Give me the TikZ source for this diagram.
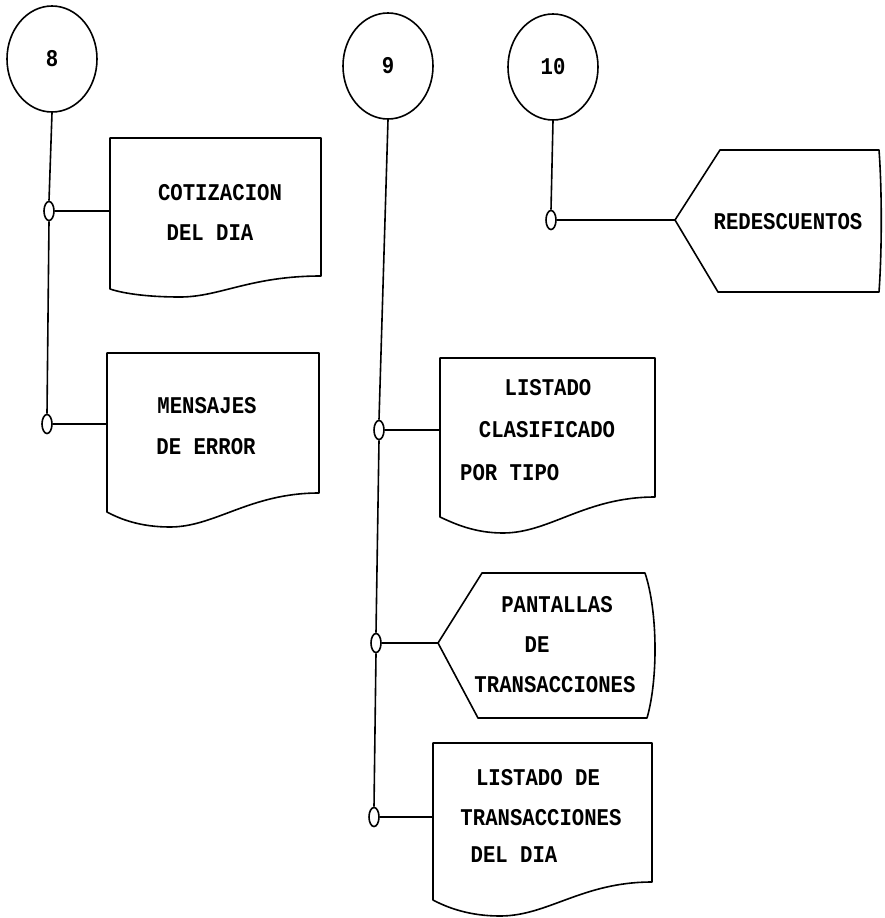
\documentclass[tikz,border=0pt]{standalone}
\usepackage{fontspec}
\setmonofont[FakeStretch=0.86]{Liberation Mono}
\usetikzlibrary{shapes.geometric}
\newcommand\printfont{\ttfamily\bfseries\fontsize{24}{24}\selectfont}
\tikzset{
  ink/.style={line width=1.6pt, draw=black},
  bubble/.style={ellipse, ink, minimum width=90pt, minimum height=106pt, inner sep=0pt, font=\printfont},
  joint/.style={ellipse, ink, fill=white, minimum width=10pt, minimum height=19pt, inner sep=0pt},
  lbl/.style={font=\printfont, inner sep=0pt},
  wire/.style={ink},
  outline/.style={ink, line join=round}
}
\begin{document}
\begin{tikzpicture}[x=1pt, y=-1pt]
\useasboundingbox (0,0) rectangle (884,918);

% ---- connector bubbles
\node[bubble] (c8)  at (52,59)  {8};
\node[bubble] (c9)  at (388,66) {9};
\node[bubble] (c10) at (553,67) {10};

% ---- junction points on the buses
\node[joint] (j1) at (49,211)  {};
\node[joint] (j2) at (47,424)  {};
\node[joint] (j3) at (379,430) {};
\node[joint] (j4) at (376,643) {};
\node[joint] (j5) at (374,817) {};
\node[joint] (j6) at (551,220) {};

% ---- attachment points on the shapes
\coordinate (b1) at (110,211);
\coordinate (b2) at (107,424);
\coordinate (b3) at (440,430);
\coordinate (d4) at (438,643);
\coordinate (b5) at (433,817);
\coordinate (d6) at (675,220);

% ---- printed-report shapes (wavy bottom)
\draw[outline] (110,289) -- (110,138) -- (321,138) -- (321,276)
  .. controls (250,276) and (220,297) .. (180,297)
  .. controls (150,297) and (125,294) .. cycle;
\draw[outline] (107,512) -- (107,353) -- (319,353) -- (319,493)
  .. controls (250,493) and (215,527) .. (170,527)
  .. controls (140,527) and (120,519) .. cycle;
\draw[outline] (440,517) -- (440,358) -- (655,358) -- (655,497)
  .. controls (585,497) and (550,533) .. (503,533)
  .. controls (475,533) and (455,524) .. cycle;
\draw[outline] (433,900) -- (433,743) -- (652,743) -- (652,882)
  .. controls (582,882) and (548,916) .. (500,916)
  .. controls (470,916) and (448,908) .. cycle;

% ---- display shapes
\draw[outline] (d6) -- (720,150) -- (879,150)
  .. controls (882,190) and (882,250) .. (879,292) -- (718,292) -- cycle;
\draw[outline] (d4) -- (482,573) -- (645,573)
  .. controls (658,612) and (658,680) .. (647,718) -- (478,718) -- cycle;

% ---- buses
\draw[wire] (c8.south) -- (j1.north);
\draw[wire] (j1.south) -- (j2.north);
\draw[wire] (c9.south) -- (j3.north);
\draw[wire] (j3.south) -- (j4.north);
\draw[wire] (j4.south) -- (j5.north);
\draw[wire] (c10.south) -- (j6.north);

% ---- branches
\draw[wire] (j1.east) -- (b1);
\draw[wire] (j2.east) -- (b2);
\draw[wire] (j3.east) -- (b3);
\draw[wire] (j4.east) -- (d4);
\draw[wire] (j5.east) -- (b5);
\draw[wire] (j6.east) -- (d6);

% ---- labels
\node[lbl] (t1a) at (220,193) {COTIZACION};
\node[lbl] (t1b) at (210,233) {DEL DIA};
\node[lbl] (t2a) at (207,406) {MENSAJES};
\node[lbl] (t2b) at (206,447) {DE ERROR};
\node[lbl] (t3a) at (548,388) {LISTADO};
\node[lbl] (t3b) at (547,430) {CLASIFICADO};
\node[lbl, anchor=west] (t3c) at (460,473) {POR TIPO};
\node[lbl] (t4a) at (557,605) {PANTALLAS};
\node[lbl] (t4b) at (537,645) {DE};
\node[lbl] (t4c) at (555,685) {TRANSACCIONES};
\node[lbl] (t5a) at (538,778) {LISTADO DE};
\node[lbl] (t5b) at (541,818) {TRANSACCIONES};
\node[lbl] (t5c) at (514,855) {DEL DIA};
\node[lbl] (t6)  at (788,222) {REDESCUENTOS};
\end{tikzpicture}
\end{document}
